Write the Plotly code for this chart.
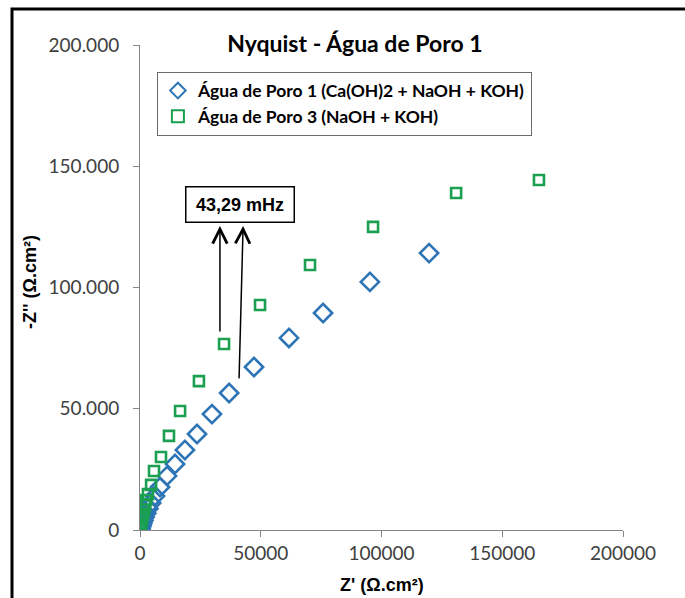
import plotly.graph_objects as go

# ---- data ----
series_names = ["Água de Poro 1 (Ca(OH)2 + NaOH + KOH)", "Água de Poro 3 (NaOH + KOH)"]

blue_x = [119700, 95200, 75800, 61700, 47200, 36900, 29800, 23600, 18600, 14500, 11200,
          8300, 6200, 4600, 3500, 2600, 1900, 1400, 1000, 700, 450, 250, 120]
blue_y = [114200, 102300, 89500, 79200, 67200, 56500, 47800, 39600, 33000, 27200, 22300,
          17700, 14000, 11100, 8800, 6900, 5300, 4000, 3000, 2100, 1400, 800, 300]

green_x = [165200, 130900, 96500, 70400, 49700, 34800, 24400, 16600, 12000, 8700, 5800,
           4600, 3300, 2600, 2100, 1700, 1300, 1000, 700, 500, 350, 250, 150, 100]
green_y = [144300, 139000, 125000, 109300, 92800, 76700, 61400, 49100, 38800, 30100, 24300,
           18600, 14800, 12400, 10300, 8400, 6800, 5400, 4100, 3000, 2100, 1400, 800, 400]

x_tickvals = [0, 50000, 100000, 150000, 200000]
x_ticktext = ["0", "50000", "100000", "150000", "200000"]
y_tickvals = [0, 50000, 100000, 150000, 200000]
y_ticktext = ["0", "50.000", "100.000", "150.000", "200.000"]

title_text = "Nyquist - Água de Poro 1"
x_title = "Z' (Ω.cm²)"
y_title = "-Z'' (Ω.cm²)"
freq_label = "43,29 mHz"

BLUE = "#2E75B6"
GREEN = "#1AA050"
AXIS = "#868686"
CAL = "Lato, Open Sans, sans-serif"
ARIAL = "Liberation Sans, Arial, sans-serif"

fig = go.Figure()
fig.add_trace(go.Scatter(
    x=blue_x, y=blue_y, mode="markers", name=series_names[0],
    marker=dict(symbol="diamond-open", size=14, color=BLUE, line=dict(width=2.6, color=BLUE)),
))
fig.add_trace(go.Scatter(
    x=green_x, y=green_y, mode="markers", name=series_names[1],
    marker=dict(symbol="square-open", size=10, color=GREEN, line=dict(width=2.6, color=GREEN)),
))

fig.update_layout(
    width=685, height=598,
    margin=dict(l=140, r=62, t=45, b=68),
    paper_bgcolor="white", plot_bgcolor="white",
    showlegend=True,
    title=dict(text="<b>" + title_text + "</b>", x=0.445, xref="paper", xanchor="center",
               y=1 - 44 / 598, yref="container", yanchor="middle",
               font=dict(family=CAL, size=23, color="#000")),
    legend=dict(x=0.035, y=0.945, xanchor="left", yanchor="top",
                bgcolor="white", bordercolor="#6b6b6b", borderwidth=1,
                font=dict(family=CAL, size=17.5, color="#000", weight="bold"),
                itemsizing="constant", itemwidth=30, tracegroupgap=0),
    xaxis=dict(range=[0, 200000], tickvals=x_tickvals, ticktext=x_ticktext,
               showgrid=False, zeroline=False, showline=True, linecolor=AXIS, linewidth=1,
               ticks="outside", ticklen=6, tickcolor=AXIS,
               tickfont=dict(family=CAL, size=19, color="#404040")),
    yaxis=dict(range=[0, 200000], tickvals=y_tickvals, ticktext=y_ticktext,
               showgrid=False, zeroline=False, showline=True, linecolor=AXIS, linewidth=1,
               ticks="outside", ticklen=6, tickcolor=AXIS, ticklabelstandoff=10,
               tickfont=dict(family=CAL, size=19, color="#404040")),
)

# axis titles placed as text annotations
fig.add_annotation(x=0.5, y=(530 - 585) / 485, xref="paper", yref="paper",
                   text="<b>" + x_title + "</b>", showarrow=False, xanchor="center", yanchor="middle",
                   font=dict(family=ARIAL, size=18, color="#000"))
fig.add_annotation(x=(30 - 140) / 483, y=(530 - 282) / 485, xref="paper", yref="paper",
                   text="<b>" + y_title + "</b>", showarrow=False, textangle=-90,
                   xanchor="center", yanchor="middle",
                   font=dict(family=ARIAL, size=18, color="#000"))

# frequency label box and arrows
fig.add_annotation(x=41400, y=134400, xref="x", yref="y", text="<b>" + freq_label + "</b>",
                   showarrow=False, bordercolor="#000", borderwidth=1.5, bgcolor="white",
                   width=105, height=32,
                   font=dict(family=ARIAL, size=18, color="#000"))
for hx, hy, tx, ty in [(33100, 125400, 33100, 81200), (42700, 125400, 41000, 61900)]:
    fig.add_annotation(x=hx, y=hy, ax=tx, ay=ty, xref="x", yref="y", axref="x", ayref="y",
                       text="", showarrow=True, arrowhead=5, arrowsize=1.9, arrowwidth=1.5,
                       arrowcolor="#000", standoff=0)

# outer frame of the picture
fig.add_shape(type="rect", xref="paper", yref="paper",
              x0=(12 - 140) / 483, x1=(720 - 140) / 483,
              y0=(530 - 640) / 485, y1=(530 - 9) / 485,
              line=dict(color="#000", width=3), fillcolor="rgba(0,0,0,0)", layer="above")

fig.write_html("out.html")
